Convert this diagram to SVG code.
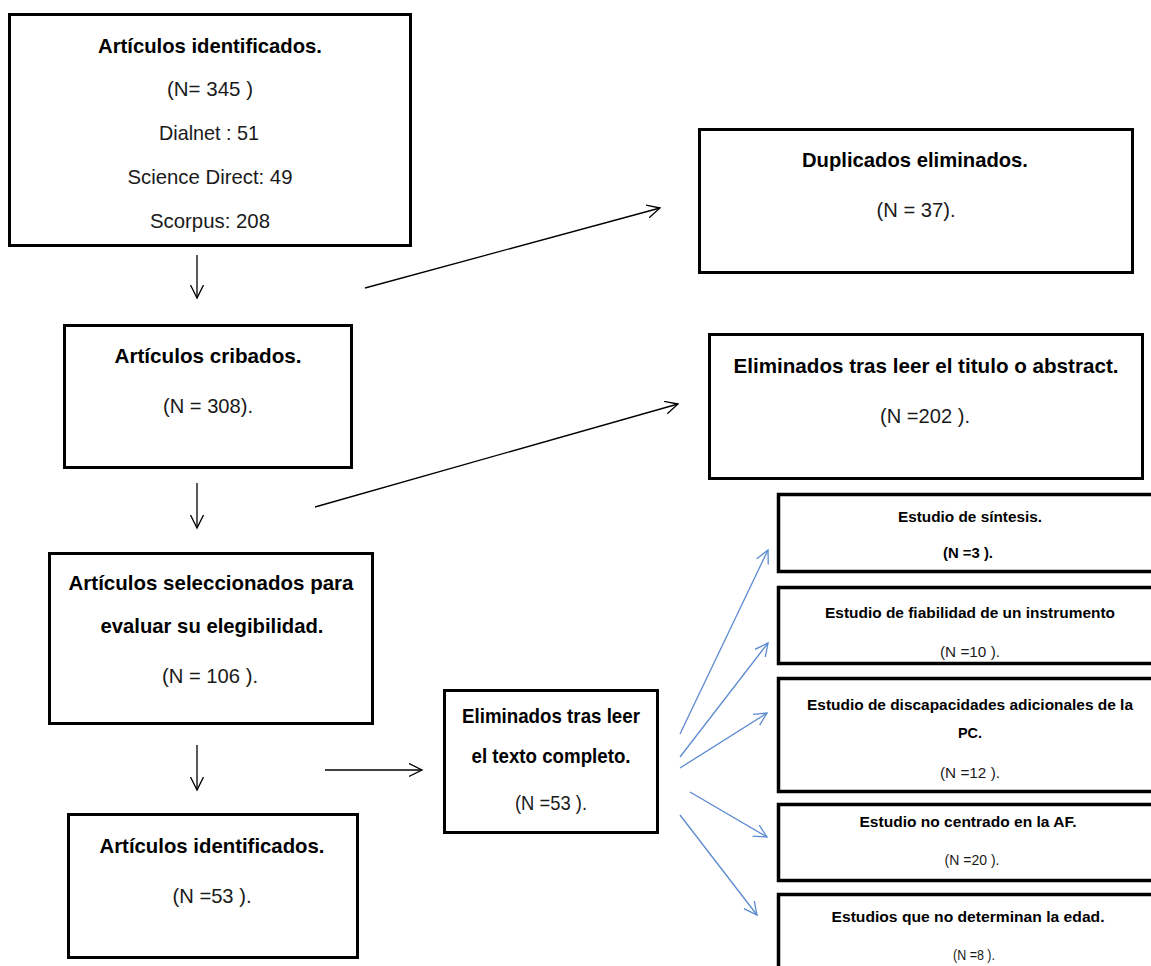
<svg xmlns="http://www.w3.org/2000/svg" width="1151" height="966" viewBox="0 0 1151 966">
<style>
.box{fill:#fff;stroke:#000;stroke-width:3}
.sbox{fill:#fff;stroke:#000;stroke-width:3.5}
.t{font-family:"Liberation Sans",Arial,sans-serif;font-size:21px;fill:#000;text-anchor:middle}
.b{font-weight:bold}
.r{fill:#1a1a1a}
.s{font-size:15px}
.k{fill:none;stroke:#000;stroke-width:1.3}
.bl{fill:none;stroke:#5b8ad0;stroke-width:1.3}
</style>
<defs>
<marker id="ak" markerUnits="userSpaceOnUse" markerWidth="16" markerHeight="16" refX="13" refY="7" orient="auto">
<path d="M0,0.5 L13,7 L0,13.5" fill="none" stroke="#000" stroke-width="1.3"/>
</marker>
<marker id="ab" markerUnits="userSpaceOnUse" markerWidth="16" markerHeight="16" refX="13" refY="7" orient="auto">
<path d="M0,0.5 L13,7 L0,13.5" fill="none" stroke="#5b8ad0" stroke-width="1.3"/>
</marker>
</defs>
<g id="connectors">
<line class="k" x1="197" y1="255" x2="197" y2="298" marker-end="url(#ak)"/>
<line class="k" x1="197" y1="483" x2="197" y2="528" marker-end="url(#ak)"/>
<line class="k" x1="197" y1="745" x2="197" y2="790" marker-end="url(#ak)"/>
<line class="k" x1="365" y1="288" x2="660" y2="208" marker-end="url(#ak)"/>
<line class="k" x1="315" y1="507" x2="678" y2="404" marker-end="url(#ak)"/>
<line class="k" x1="325" y1="770" x2="422" y2="770" marker-end="url(#ak)"/>
<line class="bl" x1="680" y1="734" x2="768" y2="550" marker-end="url(#ab)"/>
<line class="bl" x1="680" y1="757" x2="768" y2="643" marker-end="url(#ab)"/>
<line class="bl" x1="680" y1="768" x2="767" y2="713" marker-end="url(#ab)"/>
<line class="bl" x1="690" y1="792" x2="767" y2="837" marker-end="url(#ab)"/>
<line class="bl" x1="680" y1="815" x2="757" y2="915" marker-end="url(#ab)"/>
</g>
<g id="n1">
<rect class="box" x="9.5" y="14.5" width="401" height="231"/>
<text class="t b" x="210" y="53" textLength="224" lengthAdjust="spacingAndGlyphs">Artículos identificados.</text>
<text class="t r" x="210" y="96" textLength="86" lengthAdjust="spacingAndGlyphs">(N= 345 )</text>
<text class="t r" x="209" y="140" textLength="100" lengthAdjust="spacingAndGlyphs">Dialnet : 51</text>
<text class="t r" x="210" y="184" textLength="165" lengthAdjust="spacingAndGlyphs">Science Direct: 49</text>
<text class="t r" x="210" y="228" textLength="120" lengthAdjust="spacingAndGlyphs">Scorpus: 208</text>
</g>
<g id="n2">
<rect class="box" x="699.5" y="129.5" width="433" height="143"/>
<text class="t b" x="915" y="167" textLength="226" lengthAdjust="spacingAndGlyphs">Duplicados eliminados.</text>
<text class="t r" x="916" y="217" textLength="79" lengthAdjust="spacingAndGlyphs">(N = 37).</text>
</g>
<g id="n3">
<rect class="box" x="709.5" y="334.5" width="433" height="144"/>
<text class="t b" x="926" y="373" textLength="385" lengthAdjust="spacingAndGlyphs">Eliminados tras leer el titulo  o abstract.</text>
<text class="t r" x="925" y="423" textLength="90" lengthAdjust="spacingAndGlyphs">(N =202 ).</text>
</g>
<g id="n4">
<rect class="box" x="64.5" y="325.5" width="287" height="142"/>
<text class="t b" x="208" y="363" textLength="187" lengthAdjust="spacingAndGlyphs">Artículos cribados.</text>
<text class="t r" x="208" y="413" textLength="90" lengthAdjust="spacingAndGlyphs">(N = 308).</text>
</g>
<g id="n5">
<rect class="box" x="49.5" y="553.5" width="323" height="170"/>
<text class="t b" x="211" y="590" textLength="285" lengthAdjust="spacingAndGlyphs">Artículos seleccionados para</text>
<text class="t b" x="212" y="633" textLength="223" lengthAdjust="spacingAndGlyphs">evaluar su elegibilidad.</text>
<text class="t r" x="210" y="683" textLength="96" lengthAdjust="spacingAndGlyphs">(N = 106 ).</text>
</g>
<g id="n6">
<rect class="box" x="444.5" y="690.5" width="213" height="142"/>
<text class="t b" x="551" y="723" textLength="178" lengthAdjust="spacingAndGlyphs">Eliminados tras leer</text>
<text class="t b" x="551" y="763" textLength="159" lengthAdjust="spacingAndGlyphs">el texto completo.</text>
<text class="t r" x="551" y="810" textLength="72" lengthAdjust="spacingAndGlyphs">(N =53 ).</text>
</g>
<g id="n7">
<rect class="box" x="68.5" y="814.5" width="289" height="143"/>
<text class="t b" x="212" y="853" textLength="225" lengthAdjust="spacingAndGlyphs">Artículos identificados.</text>
<text class="t r" x="212" y="903" textLength="79" lengthAdjust="spacingAndGlyphs">(N =53 ).</text>
</g>
<g id="n8">
<rect class="sbox" x="778.5" y="494.5" width="400" height="77"/>
<text class="t b s" x="970" y="522" textLength="144" lengthAdjust="spacingAndGlyphs">Estudio de síntesis.</text>
<text class="t b s" x="968" y="558" textLength="50" lengthAdjust="spacingAndGlyphs">(N =3 ).</text>
</g>
<g id="n9">
<rect class="sbox" x="778.5" y="587.5" width="400" height="76"/>
<text class="t b s" x="970" y="618" textLength="290" lengthAdjust="spacingAndGlyphs">Estudio de fiabilidad  de un instrumento</text>
<text class="t r s" x="970" y="657" textLength="60" lengthAdjust="spacingAndGlyphs">(N =10 ).</text>
</g>
<g id="n10">
<rect class="sbox" x="778.5" y="678.5" width="400" height="113"/>
<text class="t b s" x="970" y="710" textLength="326" lengthAdjust="spacingAndGlyphs">Estudio de discapacidades adicionales de la</text>
<text class="t b s" x="970" y="738" textLength="24" lengthAdjust="spacingAndGlyphs">PC.</text>
<text class="t r s" x="970" y="778" textLength="60" lengthAdjust="spacingAndGlyphs">(N =12 ).</text>
</g>
<g id="n11">
<rect class="sbox" x="778.5" y="804.5" width="400" height="76"/>
<text class="t b s" x="968" y="827" textLength="217" lengthAdjust="spacingAndGlyphs">Estudio no centrado en la AF.</text>
<text class="t r s" x="972" y="865" textLength="55" lengthAdjust="spacingAndGlyphs">(N =20 ).</text>
</g>
<g id="n12">
<rect class="sbox" x="778.5" y="894.5" width="400" height="100"/>
<text class="t b s" x="968" y="922" textLength="273" lengthAdjust="spacingAndGlyphs">Estudios que no determinan la edad.</text>
<text class="t r s" x="974" y="960" textLength="42" lengthAdjust="spacingAndGlyphs">(N =8 ).</text>
</g>
</svg>
